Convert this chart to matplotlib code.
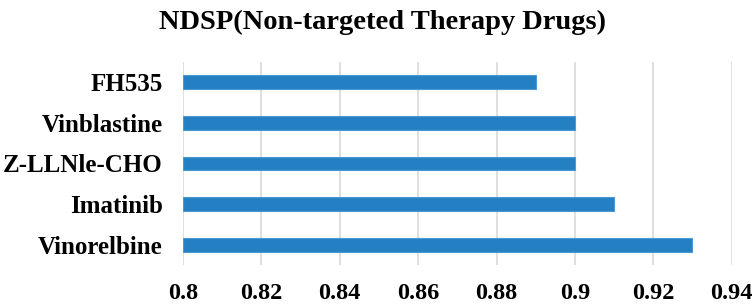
import matplotlib.pyplot as plt

# dados do gráfico (de baixo para cima)
drogas = ['Vinorelbine', 'Imatinib', 'Z-LLNle-CHO', 'Vinblastine', 'FH535']
valores = [0.93, 0.91, 0.90, 0.90, 0.89]
ticks_x = [0.8, 0.82, 0.84, 0.86, 0.88, 0.9, 0.92, 0.94]
rotulos_x = ['0.8', '0.82', '0.84', '0.86', '0.88', '0.9', '0.92', '0.94']
titulo = 'NDSP(Non-targeted Therapy Drugs)'

plt.rcParams['font.family'] = ['Liberation Serif', 'DejaVu Serif']
plt.rcParams['font.weight'] = 'bold'

fig = plt.figure(figsize=(7.54, 3.05), dpi=100)
ax = fig.add_axes([0.2427, 0.131, 0.7277, 0.666])

ax.barh(drogas, [v - 0.8 for v in valores], left=0.8, height=0.34,
        color='#2580C3', edgecolor='#4A9AD6', linewidth=0.8, zorder=3)

ax.set_xlim(0.8, 0.94)
ax.set_ylim(-0.5, 4.5)
ax.set_xticks(ticks_x)
ax.set_xticklabels(rotulos_x, fontsize=17.5, fontweight='bold')
ax.tick_params(axis='y', labelsize=18, length=0, pad=14.4)
ax.tick_params(axis='x', length=0, pad=13)
for lbl in ax.get_yticklabels():
    lbl.set_fontweight('bold')

ax.grid(axis='x', color='#D9D9D9', linewidth=1.2, zorder=0)
for lado in ['top', 'right', 'bottom', 'left']:
    ax.spines[lado].set_visible(False)

fig.text(0.507, 0.928, titulo, ha='center', va='center', fontsize=20.5, fontweight='bold')

fig.savefig('out.png', dpi=100)
